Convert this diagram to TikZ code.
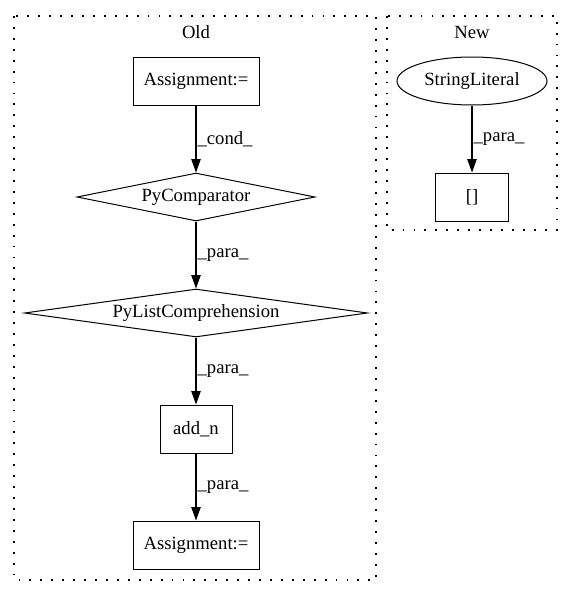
\documentclass[tikz,border=0pt]{standalone}
\usepackage{fontspec}
\setmainfont{Liberation Serif}
\usetikzlibrary{arrows.meta, shapes.geometric, positioning}

\begin{document}
\begin{tikzpicture}[x=0.75pt, y=-0.75pt, font=\fontsize{14}{16}\selectfont,
    box/.style={draw, rectangle, line width=0.75pt, minimum width=#1, minimum height=36pt, inner sep=0pt},
    cond/.style={draw, diamond, line width=0.75pt, shape aspect=#1, minimum height=36pt, inner sep=0pt},
    oval/.style={draw, ellipse, line width=0.75pt, minimum width=112.5pt, minimum height=36pt, inner sep=0pt},
    flow/.style={-{Triangle[length=10pt, width=7pt]}, line width=0.8pt},
    elabel/.style={midway, anchor=west, inner sep=0.8pt},
    cluster/.style={line width=0.9pt, dash pattern=on 1.4pt off 6.8pt}]
    \useasboundingbox (0,0) rectangle (573,596);

    % Clusters
    \draw[cluster] (14,16) rectangle (376,580);
    \node (oldtitle) at (196,32) {Old};
    \draw[cluster] (387,16) rectangle (557,230);
    \node (newtitle) at (472,32) {New};

    % Old graph
    \node[box=94.5pt] (asgtop) at (196,81) {Assignment:=};
    \node[cond=5, minimum width=178.5pt] (pycmp) at (196,197) {PyComparator};
    \node[cond=7.1, minimum width=257.25pt] (pylc) at (196,313) {PyListComprehension};
    \node[box=54pt] (addn) at (196,429) {add\_n};
    \node[box=94.5pt] (asgbot) at (196,545) {Assignment:=};

    \draw[flow] (asgtop) -- (pycmp) node[elabel] {\_cond\_};
    \draw[flow] (pycmp) -- (pylc) node[elabel] {\_para\_};
    \draw[flow] (pylc) -- (addn) node[elabel] {\_para\_};
    \draw[flow] (addn) -- (asgbot) node[elabel] {\_para\_};

    % New graph
    \node[oval] (strlit) at (472,81) {StringLiteral};
    \node[box=54.75pt] (idx) at (472,197) {[]};

    \draw[flow] (strlit) -- (idx) node[elabel] {\_para\_};
\end{tikzpicture}
\end{document}
